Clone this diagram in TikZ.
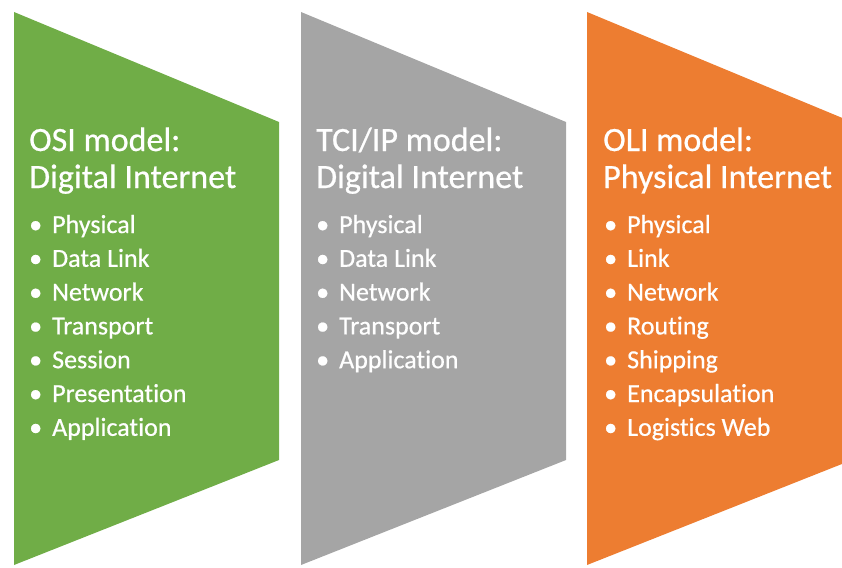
\documentclass[tikz,border=0pt]{standalone}
\usepackage{fontspec}
\setmainfont[Ligatures=NoCommon, FakeBold=0.6]{Carlito}
\usepackage{tikz}

\definecolor{osigreen}{HTML}{70AD47}
\definecolor{tcpgray}{HTML}{A5A5A5}
\definecolor{oliorange}{HTML}{ED7D31}

\newcommand{\layerbullet}{\makebox[23pt][l]{\textbullet}}

\tikzset{
  heading/.style={anchor=base west, inner sep=0pt, text=white, font=\fontsize{34}{36}\selectfont},
  layer/.style={anchor=base west, inner sep=0pt, text=white, font=\fontsize{26}{30}\selectfont},
}

\begin{document}
\begin{tikzpicture}[x=1pt, y=-1pt]
\useasboundingbox (0,0) rectangle (842,567);
\clip (0,0) rectangle (842,567);

% the three bands
\fill[osigreen]  (14,12)  -- (279,122) -- (279,460) -- (14,565)  -- cycle;
\fill[tcpgray]   (301,12) -- (566,122) -- (566,460) -- (301,565) -- cycle;
\fill[oliorange] (587,12) -- (852,122) -- (852,460) -- (587,565) -- cycle;

% OSI
\node[heading] (osiA) at (29,151) {OSI model:};
\node[heading] (osiB) at (29,188) {Digital Internet};
\node[layer] (osi1) at (29,233)   {\layerbullet Physical};
\node[layer] (osi2) at (29,266.8) {\layerbullet Data Link};
\node[layer] (osi3) at (29,300.6) {\layerbullet Network};
\node[layer] (osi4) at (29,334.4) {\layerbullet Transport};
\node[layer] (osi5) at (29,368.2) {\layerbullet Session};
\node[layer] (osi6) at (29,402)   {\layerbullet Presentation};
\node[layer] (osi7) at (29,435.8) {\layerbullet Application};

% TCP/IP
\node[heading] (tcpA) at (316,151) {TCI/IP model:};
\node[heading] (tcpB) at (316,188) {Digital Internet};
\node[layer] (tcp1) at (316,233)   {\layerbullet Physical};
\node[layer] (tcp2) at (316,266.8) {\layerbullet Data Link};
\node[layer] (tcp3) at (316,300.6) {\layerbullet Network};
\node[layer] (tcp4) at (316,334.4) {\layerbullet Transport};
\node[layer] (tcp5) at (316,368.2) {\layerbullet Application};

% OLI
\node[heading] (oliA) at (603,151) {OLI model:};
\node[heading] (oliB) at (603,188) {Physical Internet};
\node[layer] (oli1) at (604,233)   {\layerbullet Physical};
\node[layer] (oli2) at (604,266.8) {\layerbullet Link};
\node[layer] (oli3) at (604,300.6) {\layerbullet Network};
\node[layer] (oli4) at (604,334.4) {\layerbullet Routing};
\node[layer] (oli5) at (604,368.2) {\layerbullet Shipping};
\node[layer] (oli6) at (604,402)   {\layerbullet Encapsulation};
\node[layer] (oli7) at (604,435.8) {\layerbullet Logistics Web};
\end{tikzpicture}
\end{document}
